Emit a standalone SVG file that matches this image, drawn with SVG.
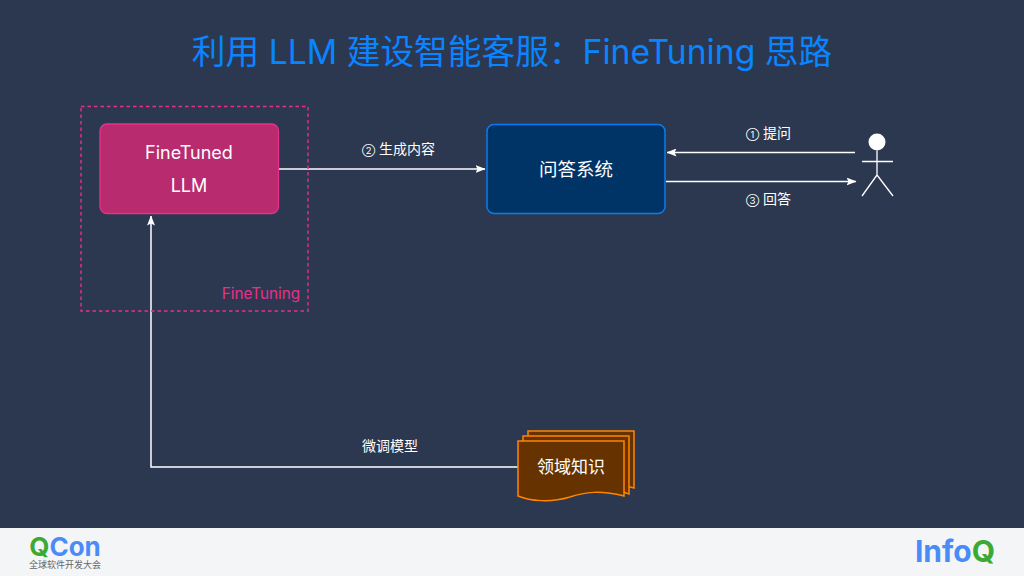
<svg xmlns="http://www.w3.org/2000/svg" width="1024" height="576" viewBox="0 0 1024 576">
<style>
text{font-family:"Inter","Noto Sans CJK SC","Noto Sans",sans-serif;fill:#fff;text-anchor:middle}
.lab{font-size:14px}
.num{font-size:9.500px}
.c{fill:none;stroke:#fff;stroke-width:1.500}
.doc{fill:#663300;stroke:#ff8500;stroke-width:1.500}
</style>
<defs>
<marker id="ah" viewBox="0 0 10 8" refX="9.500" refY="4" markerUnits="userSpaceOnUse" markerWidth="10" markerHeight="8" orient="auto"><path d="M0 0L10 4L0 8L2 4Z" fill="#fff"/></marker>
</defs>
<rect width="1024" height="576" fill="#2c3850"/>
<rect y="528" width="1024" height="48" fill="#f4f5f7"/>
<text x="512" y="64" font-size="33.700" style="fill:#0a84ff">利用 LLM 建设智能客服：FineTuning 思路</text>
<g id="connectors">
<path class="c" d="M279 169H485" marker-end="url(#ah)"/>
<path class="c" d="M855 152.500H667" marker-end="url(#ah)"/>
<path class="c" d="M666 181.500H856" marker-end="url(#ah)"/>
<path class="c" d="M518 467H151V216" marker-end="url(#ah)"/>
</g>
<g id="finetuning-box">
<rect x="81" y="106.500" width="227" height="204.500" fill="none" stroke="#e8308a" stroke-width="1.400" stroke-dasharray="3.500 3"/>
<text x="261" y="299" font-size="15.300" style="fill:#e8308a">FineTuning</text>
</g>
<g id="finetuned-llm">
<rect x="100" y="124" width="178.500" height="89.500" rx="7" fill="#b82b6e" stroke="#e8308a" stroke-width="1.300"/>
<text x="189" y="158.500" font-size="18">FineTuned</text>
<text x="189" y="191.500" font-size="18">LLM</text>
</g>
<g id="qa-system">
<rect x="487" y="124.500" width="178" height="89" rx="7" fill="#003366" stroke="#0a7cf0" stroke-width="1.500"/>
<text x="576" y="175.500" font-size="18.500">问答系统</text>
</g>
<g id="user">
<circle cx="877" cy="142" r="8.500" fill="#fff"/>
<path d="M877 150.500V175M862 161.500H893M877 175L862 196M877 175L893 196" fill="none" stroke="#fff" stroke-width="1.300"/>
</g>
<g id="domain-knowledge">
<path class="doc" d="M528 431H634V488L628 486.500V438H528Z"/>
<path class="doc" d="M523 436H629V494L623 492V442H523Z"/>
<path class="doc" d="M518 441H624V496C600 490 585 492 570 497C550 503 530 501 518 496Z"/>
<text x="571" y="473" font-size="17">领域知识</text>
</g>
<g id="labels">
<text x="398.500" y="154" class="lab"><tspan class="num">②</tspan> 生成内容</text>
<text x="768.500" y="138" class="lab"><tspan class="num">①</tspan> 提问</text>
<text x="768.500" y="204" class="lab"><tspan class="num">③</tspan> 回答</text>
<text x="390" y="451" class="lab">微调模型</text>
</g>
<g id="qcon-logo">
<text x="65" y="556" font-size="26" font-weight="700" style="fill:#4a8cf7"><tspan style="fill:#3aaa35">Q</tspan>Con</text>
<text x="65" y="568" font-size="9" style="fill:#666">全球软件开发大会</text>
</g>
<g id="infoq-logo">
<text x="955" y="562" font-size="30" font-weight="700" style="fill:#4a8cf7">Info<tspan style="fill:#3aaa35">Q</tspan></text>
</g>
</svg>
